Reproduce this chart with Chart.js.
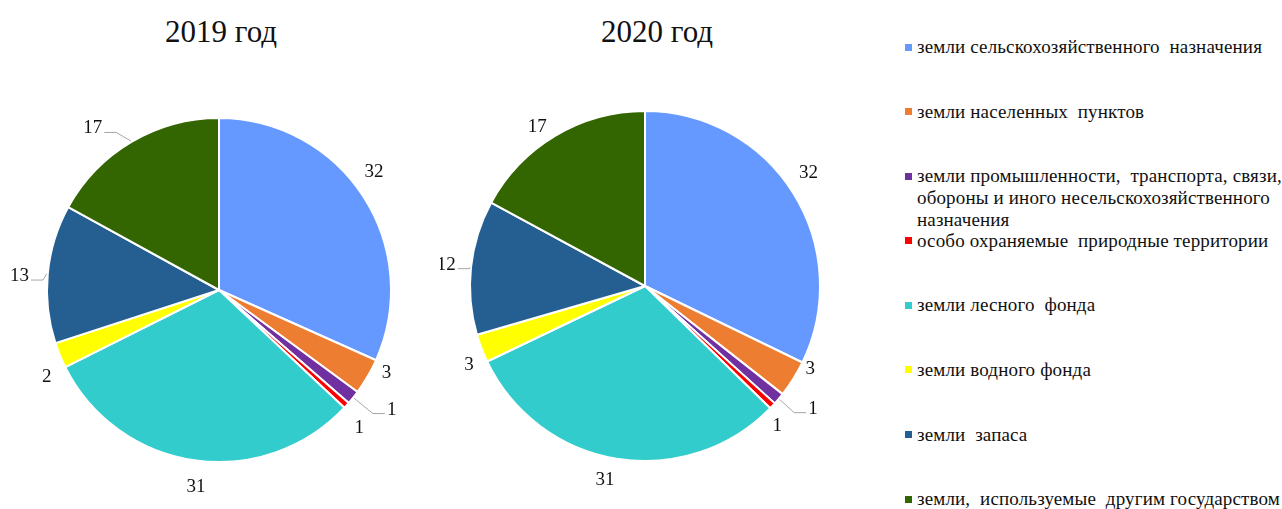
<!DOCTYPE html>
<html lang="ru">
<head>
<meta charset="utf-8">
<script src="https://cdn.jsdelivr.net/npm/chart.js@4.4.1/dist/chart.umd.min.js"></script>
<style>
  html, body { margin: 0; padding: 0; background: #fff; }
  #wrap { position: relative; width: 1282px; height: 509px; overflow: hidden; font-family: 'Liberation Serif', 'Times New Roman', serif; color: #111; }
  .pie { position: absolute; top: 0; width: 440px; height: 509px; }
  .titulo { position: absolute; top: 14px; width: 200px; text-align: center; font-size: 31px; line-height: 36px; }
  #leyenda { position: absolute; left: 905px; top: 36px; width: 377px; }
  .item { position: relative; height: 64.6px; font-size: 19px; line-height: 22px; letter-spacing: 0.15px; white-space: nowrap; }
  .item .marca { position: absolute; left: 0; top: 7.5px; width: 7px; height: 7px; }
  .item .texto { margin-left: 12px; white-space: pre; }
</style>
</head>
<body>
<div id="wrap">
  <div class="titulo" id="titulo-1" style="left: 121px;"></div>
  <div class="titulo" id="titulo-2" style="left: 557px;"></div>
  <div class="pie" style="left: 0;"><canvas id="pie-2019"></canvas></div>
  <div class="pie" style="left: 440px;"><canvas id="pie-2020"></canvas></div>
  <div id="leyenda"></div>
</div>
<script>
const categorias = [
  ['земли сельскохозяйственного  назначения'],
  ['земли населенных  пунктов'],
  ['земли промышленности,  транспорта, связи,', 'обороны и иного несельскохозяйственного', 'назначения'],
  ['особо охраняемые  природные территории'],
  ['земли лесного  фонда'],
  ['земли водного фонда'],
  ['земли  запаса'],
  ['земли,  используемые  другим государством']
];
const anhos = ['2019 год', '2020 год'];
const valores2019 = [31.7, 3.4, 1.3, 0.6, 30.6, 2.4, 13.0, 17.0];
const valores2020 = [32.2, 3.4, 1.1, 0.6, 30.6, 2.6, 12.4, 17.1];
const colores = ['#6699ff', '#ed7d31', '#7030a0', '#ff0000', '#33cccc', '#ffff00', '#255e91', '#336600'];

// etiquetas de valor fuera del pastel, con linea guia cuando hace falta
const etiquetasPie = {
  id: 'etiquetasPie',
  afterDatasetsDraw(chart, args, opts) {
    const { ctx } = chart;
    const meta = chart.getDatasetMeta(0);
    const datos = chart.data.datasets[0].data;
    ctx.save();
    ctx.font = '19px "Liberation Serif", "Times New Roman", serif';
    ctx.fillStyle = '#111';
    ctx.textAlign = 'center';
    ctx.textBaseline = 'middle';
    meta.data.forEach((arco, i) => {
      const { x, y, startAngle, endAngle, outerRadius } = arco.getProps(['x', 'y', 'startAngle', 'endAngle', 'outerRadius'], true);
      const medio = (startAngle + endAngle) / 2;
      const angulo = medio + opts.giro[i] * Math.PI / 180;
      const dist = outerRadius + opts.distancia[i];
      const lx = x + Math.cos(angulo) * dist;
      const ly = y + Math.sin(angulo) * dist;
      const texto = Math.round(datos[i]).toString();
      if (opts.guia[i]) {
        const ancho = ctx.measureText(texto).width;
        const lado = Math.cos(angulo) >= 0 ? 1 : -1;
        const ex = lx - lado * (ancho / 2 + 2);
        const ey = ly + 4;
        ctx.strokeStyle = '#a6a6a6';
        ctx.lineWidth = 1;
        ctx.beginPath();
        ctx.moveTo(x + Math.cos(medio) * (outerRadius + 1), y + Math.sin(medio) * (outerRadius + 1));
        ctx.lineTo(ex - lado * 12, ey);
        ctx.lineTo(ex, ey);
        ctx.stroke();
      }
      ctx.fillText(texto, lx, ly);
    });
    ctx.restore();
  }
};

const crearPie = (id, valores, relleno, etiquetas) => {
  new Chart(document.getElementById(id), {
    type: 'pie',
    data: {
      labels: categorias.map((c) => c.join(' ')),
      datasets: [{
        data: valores,
        backgroundColor: colores,
        borderColor: '#ffffff',
        borderWidth: 2
      }]
    },
    options: {
      responsive: true,
      maintainAspectRatio: false,
      animation: false,
      layout: { padding: relleno },
      plugins: {
        legend: { display: false },
        tooltip: { enabled: false },
        etiquetasPie: etiquetas
      }
    },
    plugins: [etiquetasPie]
  });
};

document.getElementById('titulo-1').textContent = anhos[0];
document.getElementById('titulo-2').textContent = anhos[1];

crearPie('pie-2019', valores2019, { left: 46, right: 48, top: 117, bottom: 46 }, {
  distancia: [23, 15, 38, 25, 26, 21, 28, 33],
  giro: [-4.4, -3.8, -4, 2.5, -1.6, -4.5, -1.4, -7.4],
  guia: [false, false, true, false, false, false, true, true]
});

crearPie('pie-2020', valores2020, { left: 29, right: 59, top: 110, bottom: 47 }, {
  distancia: [24, 10, 33, 18, 23, 18, 25, 17],
  giro: [-2.7, -5.3, -4, 3.5, 2.3, -3.3, 0, -3.4],
  guia: [false, false, true, false, false, false, true, false]
});

const leyenda = document.getElementById('leyenda');
categorias.forEach((lineas, i) => {
  const item = document.createElement('div');
  item.className = 'item';
  const marca = document.createElement('span');
  marca.className = 'marca';
  marca.style.background = colores[i];
  const texto = document.createElement('div');
  texto.className = 'texto';
  texto.textContent = lineas.join('\n');
  item.appendChild(marca);
  item.appendChild(texto);
  leyenda.appendChild(item);
});
</script>
</body>
</html>
